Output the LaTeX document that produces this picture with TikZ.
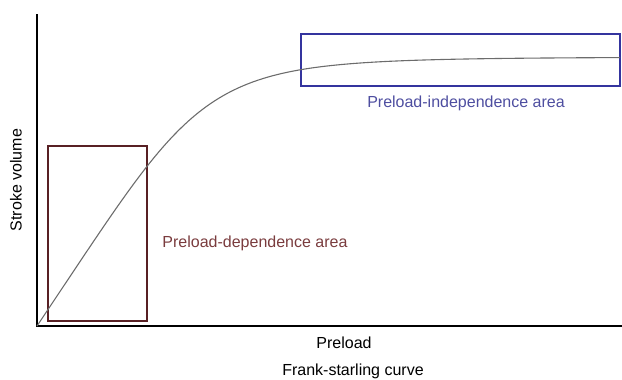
\documentclass[tikz,border=0pt]{standalone}
\usepackage{fontspec}
\setmainfont{Liberation Sans}
\usepackage{tikz}
\usepackage{xcolor}
\definecolor{darea}{RGB}{88,32,36}
\definecolor{dtext}{RGB}{122,60,62}
\definecolor{iarea}{RGB}{52,52,158}
\definecolor{itext}{RGB}{78,78,160}

\begin{document}
\begin{tikzpicture}[x=1pt,y=-1pt,
    lbl/.style={font=\fontsize{16}{19}\selectfont, inner sep=0pt}]
                \useasboundingbox (0,0) rectangle (622,380);
                \draw[line width=2.6pt](37,14) -- (37,326) -- (622,326);
                \draw[line width=2.2pt, darea](48,146) rectangle (147,321);
                \draw[line width=2.2pt, iarea](301,34) rectangle (620,86);
                \draw[gray!85!black, line width=1.1pt, domain=37:620, samples=120] plot
                    (\x, {326 - 1.5*(\x-37)/((1+(1.5*(\x-37)/269)^4)^0.25)});
                \node[lbl, text=dtext] (dep) at (255,243) {Preload-dependence area};
                \node[lbl, text=itext] (indep) at (466,103) {Preload-independence area};
                \node[lbl] (xlab) at (344,343) {Preload};
                \node[lbl] (cap) at (353,371) {Frank-starling curve};
                \node[lbl, rotate=90] (ylab) at (16,180) {Stroke volume};
            \end{tikzpicture}
\end{document}
